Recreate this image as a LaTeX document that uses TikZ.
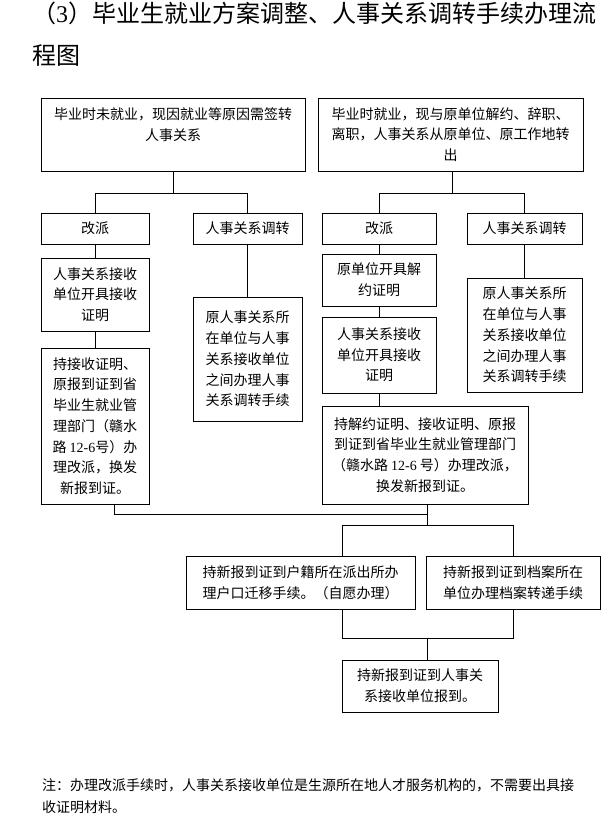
\documentclass[tikz,border=0pt]{standalone}
\usepackage{fontspec}
\usetikzlibrary{calc}
\newfontfamily\cjk{Noto Sans CJK SC}
\newfontfamily\latinnum{Liberation Serif}
\newcommand{\rnum}[1]{{\latinnum #1}}

\begin{document}
\begin{tikzpicture}[
    x=1pt, y=-1pt,
    box/.style={draw, line width=0.8pt, inner sep=0pt, align=center,
      font=\cjk\fontsize{14}{20.7}\selectfont},
    wire/.style={line width=0.8pt},
    heading/.style={anchor=base west, inner sep=0pt,
      font=\cjk\fontsize{24}{24}\selectfont},
  ]
    \useasboundingbox (0,0) rectangle (615,830);
    % title
    \node[heading] (title1) at (32,22)
      {（\rnum{3}）毕业生就业方案调整、人事关系调转手续办理流};
    \node[heading] (title2) at (32,64) {程图};
    % two starting cases
    \node[box, minimum width=264, minimum height=73] (A) at (173,134.5)
      {毕业时未就业，现因就业等原因需签转\\人事关系\\\mbox{}};
    \node[box, minimum width=265, minimum height=73] (B) at (450.5,134.5)
      {毕业时就业，现与原单位解约、辞职、\\离职，人事关系从原单位、原工作地转\\出};
    % second row
    \node[box, minimum width=108, minimum height=31] (pL) at (95,228.5) {改派};
    \node[box, minimum width=109, minimum height=31] (tL) at (247.5,228.5) {人事关系调转};
    \node[box, minimum width=114, minimum height=31] (pR) at (379,228.5) {改派};
    \node[box, minimum width=115, minimum height=31] (tR) at (524.5,228.5) {人事关系调转};
    % left branch
    \node[box, minimum width=108, minimum height=73] (rL) at (95,294.5)
      {人事关系接收\\单位开具接收\\证明};
    \node[box, minimum width=108, minimum height=156] (gL) at (95,426)
      {持接收证明、\\原报到证到省\\毕业生就业管\\理部门（赣水\\路 \rnum{12-6}号）办\\理改派，换发\\新报到证。};
    \node[box, minimum width=109, minimum height=124] (oL) at (247.5,359)
      {原人事关系所\\在单位与人事\\关系接收单位\\之间办理人事\\关系调转手续};
    % right branch
    \node[box, minimum width=114, minimum height=52] (jR) at (379,280)
      {原单位开具解\\约证明};
    \node[box, minimum width=114, minimum height=76] (rR) at (379,355)
      {人事关系接收\\单位开具接收\\证明};
    \node[box, minimum width=206, minimum height=98] (gR) at (425,455)
      {持解约证明、接收证明、原报\\到证到省毕业生就业管理部门\\（赣水路 \rnum{12-6} 号）办理改派，\\换发新报到证。};
    \node[box, minimum width=115, minimum height=114] (oR) at (524.5,335)
      {原人事关系所\\在单位与人事\\关系接收单位\\之间办理人事\\关系调转手续};
    % common steps
    \node[box, minimum width=229, minimum height=53] (hk) at (300.5,582.5)
      {持新报到证到户籍所在派出所办\\理户口迁移手续。（自愿办理）};
    \node[box, minimum width=174, minimum height=53] (da) at (513,582.5)
      {持新报到证到档案所在\\单位办理档案转递手续};
    \node[box, minimum width=156, minimum height=52] (bd) at (420,686)
      {持新报到证到人事关\\系接收单位报到。};
    % note
    \node[anchor=north west, align=left, inner sep=0pt,
          font=\cjk\fontsize{14}{22}\selectfont] (note) at (42,778)
      {注：办理改派手续时，人事关系接收单位是生源所在地人才服务机构的，不需要出具接\\收证明材料。};
    % splits under the two cases
    \draw[wire] (A.south) -- ++(0,22) coordinate (a1);
    \draw[wire] (a1) -| (pL.north);
    \draw[wire] (a1) -| (tL.north);
    \draw[wire] ([xshift=1.5]B.south) -- ++(0,22) coordinate (b1);
    \draw[wire] (b1) -| (pR.north);
    \draw[wire] (b1) -| (tR.north);
    % down the branches
    \draw[wire] (pL) -- (rL);
    \draw[wire] (rL) -- (gL);
    \draw[wire] (tL) -- (oL);
    \draw[wire] (pR) -- (jR);
    \draw[wire] (jR) -- (rR);
    \draw[wire] (rR.south) -- (rR.south |- gR.north);
    \draw[wire] (tR) -- (oR);
    % merge and the last steps
    \coordinate (m) at ($(gR.south)+(2,10)$);
    \draw[wire] ([xshift=19]gL.south) |- (m);
    \draw[wire] ([xshift=2]gR.south) -- ($(m)+(0,11)$) coordinate (s);
    \draw[wire] (s) -| ([xshift=41.5]hk.north);
    \draw[wire] (s) -| (da.north);
    \coordinate (j) at ($(bd.north)+(7,-21)$);
    \draw[wire] ([xshift=41.5]hk.south) |- (j) -| (da.south);
    \draw[wire] (j) -- (j |- bd.north);
\end{tikzpicture}
\end{document}
